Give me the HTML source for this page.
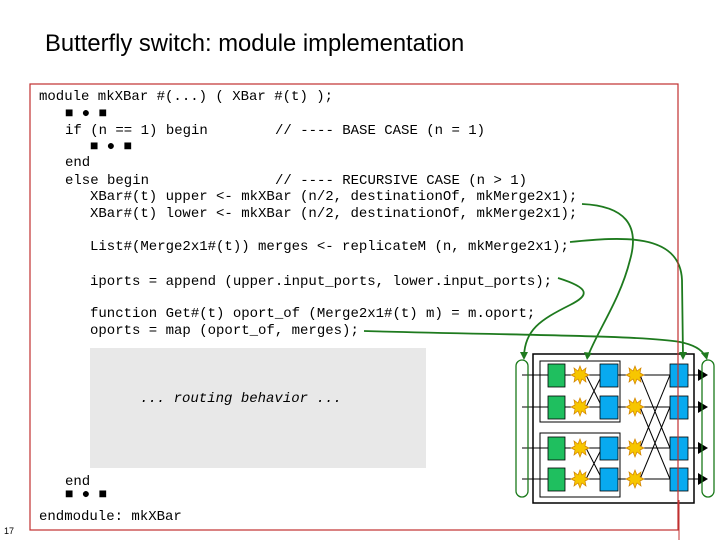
<!DOCTYPE html>
<html><head><meta charset="utf-8"><style>
html,body{margin:0;padding:0;background:#fff}
svg{display:block}
text{white-space:pre}
.c{font-family:"Liberation Mono",monospace;font-size:14px;fill:#000}
</style></head><body>
<svg width="720" height="540" viewBox="0 0 720 540" xmlns="http://www.w3.org/2000/svg" xml:space="preserve">
<text x="45" y="51" font-family="Liberation Sans,sans-serif" font-size="23.8" fill="#000">Butterfly switch: module implementation</text>
<text x="4" y="534" font-family="Liberation Sans,sans-serif" font-size="9">17</text>
<rect x="90" y="348" width="336" height="120" fill="#e8e8e8"/>
<g class="c">
<text x="39" y="100" class="c">module mkXBar #(...) ( XBar #(t) );</text>
<text x="65" y="117" class="c" font-size="9">■ ● ■</text>
<text x="65" y="134" class="c">if (n == 1) begin        // ---- BASE CASE (n = 1)</text>
<text x="90" y="150" class="c" font-size="9">■ ● ■</text>
<text x="65" y="166" class="c">end</text>
<text x="65" y="184" class="c">else begin               // ---- RECURSIVE CASE (n &gt; 1)</text>
<text x="90" y="200" class="c">XBar#(t) upper &lt;- mkXBar (n/2, destinationOf, mkMerge2x1);</text>
<text x="90" y="217" class="c">XBar#(t) lower &lt;- mkXBar (n/2, destinationOf, mkMerge2x1);</text>
<text x="90" y="250" class="c">List#(Merge2x1#(t)) merges &lt;- replicateM (n, mkMerge2x1);</text>
<text x="90" y="285" class="c">iports = append (upper.input_ports, lower.input_ports);</text>
<text x="90" y="317" class="c">function Get#(t) oport_of (Merge2x1#(t) m) = m.oport;</text>
<text x="90" y="334" class="c">oports = map (oport_of, merges);</text>
<text x="140" y="402" class="c" font-style="italic">... routing behavior ...</text>
<text x="65" y="485" class="c">end</text>
<text x="65" y="498" class="c" font-size="9">■ ● ■</text>
<text x="39" y="520" class="c">endmodule: mkXBar</text>
</g>
<g stroke="#000" fill="none" stroke-width="1">
<rect x="533" y="354" width="161" height="149" stroke-width="1.5"/>
<rect x="540" y="361" width="80" height="61"/>
<rect x="540" y="433" width="80" height="64"/>
<line x1="522" y1="375" x2="700" y2="375"/>
<line x1="522" y1="407" x2="700" y2="407"/>
<line x1="522" y1="448" x2="700" y2="448"/>
<line x1="522" y1="479" x2="700" y2="479"/>
<line x1="586" y1="375" x2="602" y2="407"/><line x1="586" y1="407" x2="602" y2="375"/>
<line x1="586" y1="448" x2="602" y2="479"/><line x1="586" y1="479" x2="602" y2="448"/>
<line x1="640" y1="375" x2="670" y2="448"/><line x1="640" y1="407" x2="670" y2="479"/>
<line x1="640" y1="448" x2="670" y2="375"/><line x1="640" y1="479" x2="670" y2="407"/>
</g>
<g fill="#1fbf5f" stroke="#000" stroke-width="0.8">
<rect x="548" y="364" width="17" height="23"/><rect x="548" y="396" width="17" height="23"/>
<rect x="548" y="437" width="17" height="23"/><rect x="548" y="468" width="17" height="23"/>
</g>
<g fill="#08aaf0" stroke="#000" stroke-width="0.8">
<rect x="600" y="364" width="18" height="23"/><rect x="600" y="396" width="18" height="23"/>
<rect x="600" y="437" width="18" height="23"/><rect x="600" y="468" width="18" height="23"/>
<rect x="670" y="364" width="18" height="23"/><rect x="670" y="396" width="18" height="23"/>
<rect x="670" y="437" width="18" height="23"/><rect x="670" y="468" width="18" height="23"/>
</g>
<defs><polygon id="st" points="0,-9 2,-4 6,-7 5,-2 9,0 5,2 6,7 2,4 0,9 -2,4 -6,7 -5,2 -9,0 -5,-2 -6,-7 -2,-4" fill="#f7c600" stroke="#d08000" stroke-width="0.7"/></defs>
<use href="#st" x="580" y="375"/><use href="#st" x="580" y="407"/><use href="#st" x="580" y="448"/><use href="#st" x="580" y="479"/>
<use href="#st" x="635" y="375"/><use href="#st" x="635" y="407"/><use href="#st" x="635" y="448"/><use href="#st" x="635" y="479"/>
<g fill="#000">
<polygon points="698,369 708,375 698,381"/><polygon points="698,401 708,407 698,413"/>
<polygon points="698,442 708,448 698,454"/><polygon points="698,473 708,479 698,485"/>
</g>
<g fill="none" stroke="#1a7a1a" stroke-width="1.3">
<rect x="516" y="360" width="12" height="137" rx="6"/>
<rect x="702" y="360" width="12" height="137" rx="6"/>
</g>
<g fill="none" stroke="#1e7a1e" stroke-width="1.8">
<path d="M582,204 C625,206 640,225 630,260 C620,300 598,330 588,356"/>
<path d="M570,242 C620,237 680,232 682,280 L683,356"/>
<path d="M558,278 C590,288 590,295 570,305 C540,320 525,330 524,356"/>
<path d="M364,331 C500,335 640,335 680,342 C695,345 702,350 705,356"/>
</g>
<g fill="#1e7a1e">
<polygon points="584,352 592,353 587,360"/>
<polygon points="679,352 687,352 683,360"/>
<polygon points="520,352 528,352 524,360"/>
<polygon points="701,353 709,352 707,360"/>
</g>
<rect x="30" y="84" width="648" height="446" fill="none" stroke="#c03030" stroke-width="1.2"/>
<line x1="679" y1="500" x2="679" y2="540" stroke="#c03030" stroke-width="1"/>
</svg>
</body></html>
